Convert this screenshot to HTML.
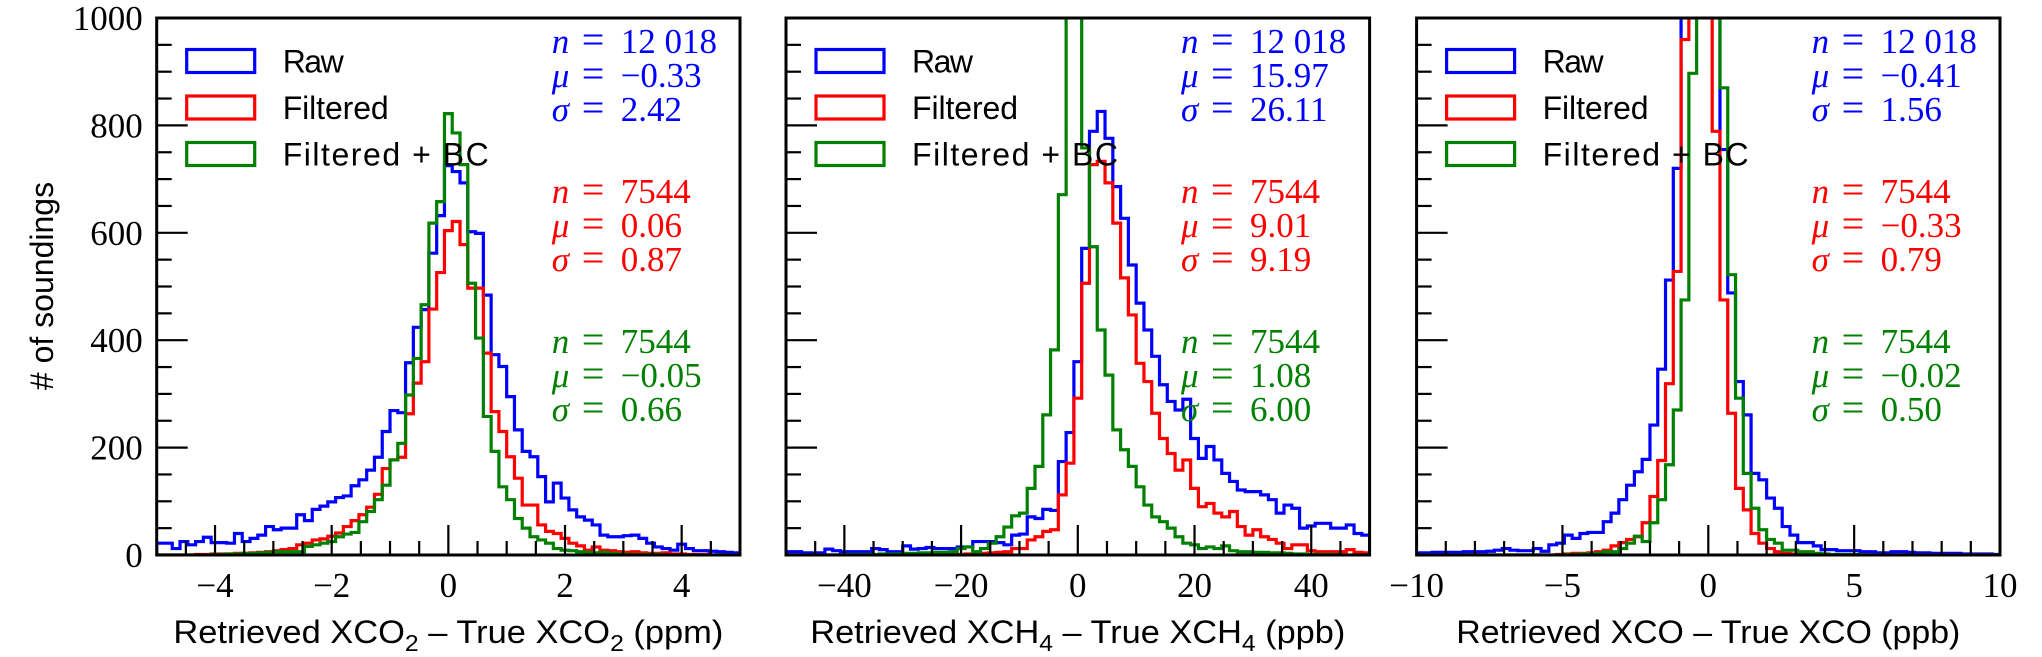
<!DOCTYPE html>
<html><head><meta charset="utf-8"><title>Retrieval error histograms</title>
<style>
html,body{margin:0;padding:0;background:#fff;}
svg{display:block;}
.tick{font-family:"Liberation Serif",serif;font-size:35px;fill:#000;}
.ann{font-family:"Liberation Serif",serif;font-size:35px;}
.lab{font-family:"Liberation Sans",sans-serif;font-size:32px;fill:#000;}
</style></head>
<body>
<svg id="fig" width="2042" height="657" viewBox="0 0 2042 657" xmlns="http://www.w3.org/2000/svg"></svg>
<script>
// ---- data (75 bins per panel) ----
const co2Range = [-5, 5];
const ch4Range = [-50, 50];
const coRange = [-10, 10];
const yTicks = [0, 200, 400, 600, 800, 1000];

const co2Raw = [22,22,12,25,19,25,33,23,23,22,40,25,31,37,53,47,50,50,75,64,85,91,99,107,110,129,140,158,182,230,269,265,358,424,457,562,632,725,
  714,693,602,599,484,373,351,295,233,193,183,146,99,134,106,84,71,65,56,37,34,34,36,37,31,22,15,12,9,20,12,8,8,7,6,5,4];
const co2Filtered = [0,0,0,0,0,1,1,2,2,2,3,3,4,5,6,8,10,12,19,22,28,30,35,41,53,64,75,89,113,161,177,182,263,320,360,458,526,604,
  621,578,497,497,376,267,230,183,143,93,93,56,44,40,31,22,17,9,15,9,8,6,5,6,4,3,3,4,2,2,1,1,1,0,0,0,0];
const co2BC = [0,0,0,0,0,0,0,1,1,2,2,3,3,4,5,6,6,6,6,16,19,22,25,34,39,42,62,81,103,130,177,208,298,366,466,618,658,822,
  786,727,506,404,258,193,127,103,68,50,34,28,22,12,9,8,6,5,4,5,3,2,1,1,1,1,1,0,0,0,0,0,0,0,0,0,0];

const ch4Raw = [6,6,4,4,4,11,8,6,6,6,6,12,10,6,6,17,11,12,14,12,12,12,15,15,25,25,25,23,19,37,39,71,68,85,83,174,228,360,571,
  789,826,776,686,627,540,469,419,370,317,286,270,290,217,180,202,177,152,137,121,118,118,112,103,78,93,87,50,54,59,59,50,50,56,40,37];
const ch4Filtered = [0,0,0,0,0,0,0,0,0,0,0,0,0,0,0,1,1,1,1,1,1,1,1,2,2,3,4,5,6,12,12,28,34,44,47,112,171,292,506,
  727,733,693,618,516,447,357,323,264,217,189,158,177,124,90,96,78,71,81,53,37,47,34,29,22,12,19,19,8,6,6,6,6,10,5,4];
const ch4BC = [0,0,0,0,0,0,0,0,1,1,1,1,2,2,2,3,3,4,4,5,5,6,12,15,6,12,22,34,52,73,78,124,165,261,382,671,1300,1300,758,
  574,419,335,233,196,165,127,93,71,62,50,34,22,19,12,15,12,17,8,6,6,5,5,4,4,3,2,2,1,1,1,1,0,0,0,0];

const coRaw = [4,4,5,5,5,5,6,6,6,7,9,12,9,8,8,12,7,19,22,37,31,40,42,42,62,78,103,130,155,178,242,346,512,720,
  1300,1300,1300,1300,1300,
  755,488,323,261,152,140,106,87,53,37,23,23,17,10,10,8,8,8,6,6,4,4,6,6,5,4,4,3,3,3,3,2,2,2,2,1];
const coFiltered = [0,0,0,0,0,0,0,0,0,0,0,0,0,0,0,0,0,0,1,2,3,3,4,6,9,17,23,29,34,60,109,176,319,528,
  960,1300,1300,1300,789,
  475,264,124,84,40,22,12,6,3,2,1,1,1,0,0,0,0,0,0,0,0,0,0,0,0,0,0,0,0,0,0,0,0,0,0,0];
const coBC = [0,0,0,0,0,0,0,0,0,0,0,0,0,0,0,0,0,0,0,1,1,2,2,3,6,6,12,22,35,25,60,103,168,270,
  475,897,1300,1300,1300,
  870,522,292,152,87,47,29,22,9,9,6,6,3,2,1,1,1,1,0,0,0,0,0,0,0,0,0,0,0,0,0,0,0,0,0,0];

const co2XTicks = [-4, -2, 0, 2, 4];
const ch4XTicks = [-40, -20, 0, 20, 40];
const coXTicks = [-10, -5, 0, 5, 10];

const seriesNames = ['Raw', 'Filtered', 'Filtered + BC'];
const seriesColors = ['#0000ff', '#ff0000', '#008000'];
const co2Stats = [['12 018','\u22120.33','2.42'],['7544','0.06','0.87'],['7544','\u22120.05','0.66']];
const ch4Stats = [['12 018','15.97','26.11'],['7544','9.01','9.19'],['7544','1.08','6.00']];
const coStats = [['12 018','\u22120.41','1.56'],['7544','\u22120.33','0.79'],['7544','\u22120.02','0.50']];

// ---- drawing ----
const NS = 'http://www.w3.org/2000/svg';
const svg = document.getElementById('fig');
const TOP = 18, BOT = 555;
function mk(tag, attrs, parent){
  const e = document.createElementNS(NS, tag);
  for (const k in attrs) e.setAttribute(k, attrs[k]);
  (parent || svg).appendChild(e);
  return e;
}
const yScale = v => BOT - (v / 1000) * (BOT - TOP);

const panels = [
  {id:'xco2', left:156.7, right:740, range:co2Range, series:[co2Raw,co2Filtered,co2BC], ticks:co2XTicks, minor:0.5, stats:co2Stats, gas:'CO', sub:'2', unit:'(ppm)', yLabels:true, tw:550},
  {id:'xch4', left:786, right:1369.6, range:ch4Range, series:[ch4Raw,ch4Filtered,ch4BC], ticks:ch4XTicks, minor:5, stats:ch4Stats, gas:'CH', sub:'4', unit:'(ppb)', yLabels:false, tw:535},
  {id:'xco', left:1416.6, right:2000, range:coRange, series:[coRaw,coFiltered,coBC], ticks:coXTicks, minor:1, stats:coStats, gas:'CO', sub:'', unit:'(ppb)', yLabels:false, tw:504}
];
const legendWidths = [61, 106, 206];

const defs = mk('defs', {});
panels.forEach((p, pi) => {
  const xScale = v => p.left + (v - p.range[0]) / (p.range[1] - p.range[0]) * (p.right - p.left);
  const g = mk('g', {});
  
  
  const cp = mk('clipPath', {id:'clip' + pi}, defs);
  mk('rect', {x:p.left, y:TOP, width:p.right - p.left, height:BOT - TOP}, cp);

  p.series.forEach((vals, si) => {
    const n = vals.length;
    const w = (p.range[1] - p.range[0]) / n;
    let d = 'M' + xScale(p.range[0]).toFixed(2) + ' ' + yScale(0).toFixed(2);
    vals.forEach((v, i) => {
      d += ' V' + yScale(v).toFixed(2) + ' H' + xScale(p.range[0] + (i + 1) * w).toFixed(2);
    });
    d += ' V' + yScale(0).toFixed(2);
    const path = mk('path', {d:d, fill:'none', stroke:seriesColors[si], 'stroke-width':3.2, 'stroke-linejoin':'miter', 'clip-path':'url(#clip' + pi + ')'}, g);
    
    
  });

  for (let v = 0; v <= 1000; v += 50) {
    const major = v % 200 === 0;
    const t = mk('line', {x1:p.left, x2:p.left + (major ? 31 : 15), y1:yScale(v), y2:yScale(v), stroke:'#000', 'stroke-width':2.2}, g);
    
    
  }
  if (p.yLabels) {
    yTicks.forEach(v => {
      const t = mk('text', {x:p.left - 14, y:yScale(v) + 12, 'text-anchor':'end', class:'tick'}, g);
      t.textContent = String(v);
      
      
    });
  }
  const nMinor = Math.round((p.range[1] - p.range[0]) / p.minor);
  for (let i = 1; i < nMinor; i++) {
    const v = p.range[0] + i * p.minor;
    const major = p.ticks.some(t => Math.abs(t - v) < 1e-9);
    const t = mk('line', {x1:xScale(v), x2:xScale(v), y1:BOT, y2:BOT - (major ? 30 : 14), stroke:'#000', 'stroke-width':2.2}, g);
    
    
  }
  p.ticks.forEach(v => {
    const t = mk('text', {x:xScale(v), y:597, 'text-anchor':'middle', class:'tick'}, g);
    t.textContent = v < 0 ? '\u2212' + Math.abs(v) : String(v);
    
    
  });

  const fr = mk('rect', {x:p.left, y:TOP, width:p.right - p.left, height:BOT - TOP, fill:'none', stroke:'#000', 'stroke-width':3}, g);
  
  

  const lg = mk('g', {}, g);
  
  
  seriesNames.forEach((nm, si) => {
    const cy = 61 + si * 46.5;
    const r = mk('rect', {x:p.left + 30, y:cy - 11.5, width:68, height:23, fill:'none', stroke:seriesColors[si], 'stroke-width':3.2}, lg);
    
    
    const t = mk('text', {x:p.left + 126, y:cy + 11.5, class:'lab', textLength:legendWidths[si], lengthAdjust:'spacing'}, lg);
    t.textContent = nm;
    
    
  });

  const sym = ['n', '\u03bc', '\u03c3'];
  p.stats.forEach((grp, si) => {
    const ag = mk('g', {fill:seriesColors[si], class:'ann'}, g);
    
    
    grp.forEach((val, li) => {
      const by = 53 + si * 150 + li * 34;
      const x0 = p.left + 395;
      const s = mk('text', {x:x0, y:by, 'font-style':'italic'}, ag);
      s.textContent = sym[li];
      const e = mk('text', {x:x0 + 30, y:by, 'font-size':40}, ag);
      e.textContent = '=';
      const v = mk('text', {x:x0 + 69, y:by}, ag);
      v.textContent = val;
    });
  });

  const cx = (p.left + p.right) / 2;
  const xt = mk('text', {x:cx - p.tw / 2, y:643, class:'lab', textLength:p.tw, lengthAdjust:'spacingAndGlyphs'}, g);
  
  
  const parts = [['Retrieved X' + p.gas, 0], [p.sub, 1], [' \u2013 True X' + p.gas, 0], [p.sub, 1], [' ' + p.unit, 0]];
  let shifted = false;
  parts.forEach(([txt, sub]) => {
    if (!txt) return;
    const ts = mk('tspan', {}, xt);
    if (sub) { ts.setAttribute('dy', 8); ts.setAttribute('font-size', 23); shifted = true; }
    else if (shifted) { ts.setAttribute('dy', -8); shifted = false; }
    ts.textContent = txt;
  });
});

const yt = mk('text', {x:0, y:0, 'text-anchor':'middle', class:'lab', transform:'translate(53,286) rotate(-90)'});
yt.textContent = '# of soundings';


</script>
</body></html>
